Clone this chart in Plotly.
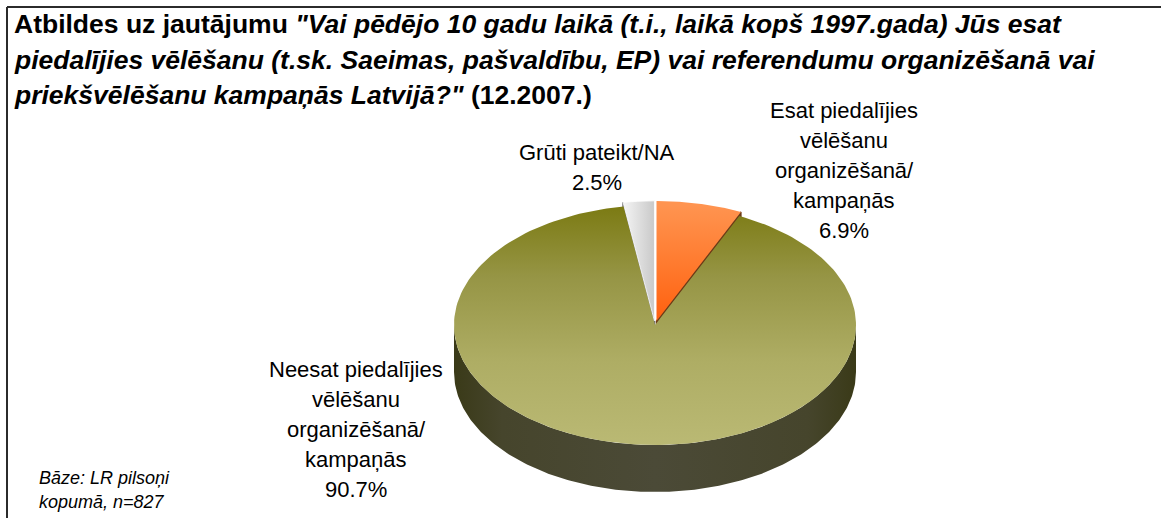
import numpy as np
import plotly.graph_objects as go

# ---- data ----
labels = [
    ["Esat piedalījies", "vēlēšanu", "organizēšanā/", "kampaņās"],
    ["Neesat piedalījies", "vēlēšanu", "organizēšanā/", "kampaņās"],
    ["Grūti pateikt/NA"],
]
values = [6.9, 90.7, 2.5]
title_lines = [
    '<b>Atbildes uz jautājumu <i>"Vai pēdējo 10 gadu laikā (t.i., laikā kopš 1997.gada) Jūs esat</i></b>',
    '<b><i>piedalījies vēlēšanu (t.sk. Saeimas, pašvaldību, EP) vai referendumu organizēšanā vai</i></b>',
    '<b><i>priekšvēlēšanu kampaņās Latvijā?"</i> (12.2007.)</b>',
]
note_lines = ["Bāze: LR pilsoņi", "kopumā, n=827"]

# ---- layout constants (pixels) ----
W, H = 1161, 518
CX, CY, RX, RY, DEPTH = 655, 325, 201, 120, 47
EXPLODE = [7, 0, 7]
FONT = "Liberation Sans, Arial, sans-serif"


def pt(theta, dx=0.0, dy=0.0, drop=0.0):
    t = np.radians(theta)
    xs = CX + RX * np.sin(t) + dx
    ys = CY - RY * np.cos(t) + dy + drop
    return xs, H - ys


def arc(a0, a1, dx=0.0, dy=0.0, drop=0.0, n=200):
    th = np.linspace(a0, a1, n)
    return pt(th, dx, dy, drop)


total = sum(values)
angles = np.concatenate([[0], np.cumsum(values) / total * 360])
offsets = []
for i in range(len(values)):
    mid = np.radians((angles[i] + angles[i + 1]) / 2)
    offsets.append((EXPLODE[i] * np.sin(mid), -EXPLODE[i] * (RY / RX) * np.cos(mid)))

fig = go.Figure()


def poly(xs, ys, **kw):
    fig.add_trace(go.Scatter(x=list(xs), y=list(ys), mode="lines", fill="toself",
                             hoverinfo="skip", showlegend=False, **kw))


def face(theta, dx, dy, color):
    ex, ey = pt(theta, dx, dy)
    ex2, ey2 = pt(theta, dx, dy, DEPTH)
    cx0, cy0 = CX + dx, H - (CY + dy)
    poly([cx0, ex, ex2, cx0, cx0], [cy0, ey, ey2, cy0 - DEPTH, cy0],
         fillcolor=color, line=dict(color=color, width=1.5))


# radial faces of small exploded slices (mostly hidden behind big slice)
face(angles[1], *offsets[0], "#6b3a16")
face(angles[2], *offsets[2], "#6e6e6e")

# side wall of big slice (front half)
sx1, sy1 = arc(90, 270)
sx2, sy2 = arc(270, 90, drop=DEPTH)
poly(np.concatenate([sx1, sx2]), np.concatenate([sy1, sy2]),
     line=dict(width=0),
     fillgradient=dict(type="horizontal",
                       colorscale=[[0, "#3a3a18"], [0.12, "#46452c"], [0.5, "#4b4a37"],
                                   [0.88, "#46452c"], [1, "#3a3a18"]],
                       start=CX - RX, stop=CX + RX))

# top of big slice
bx, by = arc(angles[1], angles[2], *offsets[1])
poly(np.concatenate([[CX + offsets[1][0]], bx, [CX + offsets[1][0]]]),
     np.concatenate([[H - CY - offsets[1][1]], by, [H - CY - offsets[1][1]]]),
     line=dict(width=0),
     fillgradient=dict(type="vertical",
                       colorscale=[[0, "#bab974"], [0.35, "#aead64"], [0.7, "#969545"], [1, "#7b7a12"]],
                       start=H - (CY + RY), stop=H - (CY - RY)))

# top of orange slice
ox, oy = arc(angles[0], angles[1], *offsets[0])
c0 = (CX + offsets[0][0], H - CY - offsets[0][1])
poly(np.concatenate([[c0[0]], ox, [c0[0]]]), np.concatenate([[c0[1]], oy, [c0[1]]]),
     line=dict(width=0),
     fillgradient=dict(type="vertical",
                       colorscale=[[0, "#ff5e0c"], [0.5, "#ff7a2e"], [1, "#ff9450"]],
                       start=H - CY, stop=H - (CY - RY)))

# top of grey slice
gx, gy = arc(angles[2], angles[3], *offsets[2])
c2 = (CX + offsets[2][0], H - CY - offsets[2][1])
poly(np.concatenate([[c2[0]], gx, [c2[0]]]), np.concatenate([[c2[1]], gy, [c2[1]]]),
     line=dict(color="#ffffff", width=0.8),
     fillgradient=dict(type="horizontal",
                       colorscale=[[0, "#f2f2f2"], [1, "#c8c8c8"]],
                       start=CX - 30, stop=CX))

annotations = []

# title
for i, t in enumerate(title_lines):
    annotations.append(dict(x=12, y=H - (24 + 35.5 * i), text=t, xanchor="left", yanchor="middle",
                            showarrow=False, font=dict(family=FONT, size=26.5, color="#000000")))

# slice labels
label_pos = [(844, 110), (356, 369.5), (597, 152)]
for i, lines in enumerate(labels):
    all_lines = lines + [f"{values[i]:.1f}%"]
    lx, ly = label_pos[i]
    for j, ln in enumerate(all_lines):
        annotations.append(dict(x=lx, y=H - (ly + 30 * j), text=ln, xanchor="center", yanchor="middle",
                                showarrow=False, font=dict(family=FONT, size=22, color="#000000")))

# base note
for j, ln in enumerate(note_lines):
    annotations.append(dict(x=37, y=H - (478 + 24 * j), text=f"<i>{ln}</i>", xanchor="left", yanchor="middle",
                            showarrow=False, font=dict(family=FONT, size=18, color="#000000")))

fig.update_layout(
    width=W, height=H,
    margin=dict(l=0, r=0, t=0, b=0),
    paper_bgcolor="white", plot_bgcolor="white",
    xaxis=dict(range=[0, W], visible=False, fixedrange=True),
    yaxis=dict(range=[0, H], visible=False, fixedrange=True),
    annotations=annotations,
    shapes=[
        dict(type="line", xref="x", yref="y", x0=7, x1=W, y0=H - 7, y1=H - 7,
             line=dict(color="#2b2b2b", width=2)),
        dict(type="line", xref="x", yref="y", x0=7, x1=7, y0=H - 7, y1=0,
             line=dict(color="#2b2b2b", width=2)),
    ],
)

fig.write_html("out.html", config={"displayModeBar": False},
               post_script="document.body.style.margin='0';")
